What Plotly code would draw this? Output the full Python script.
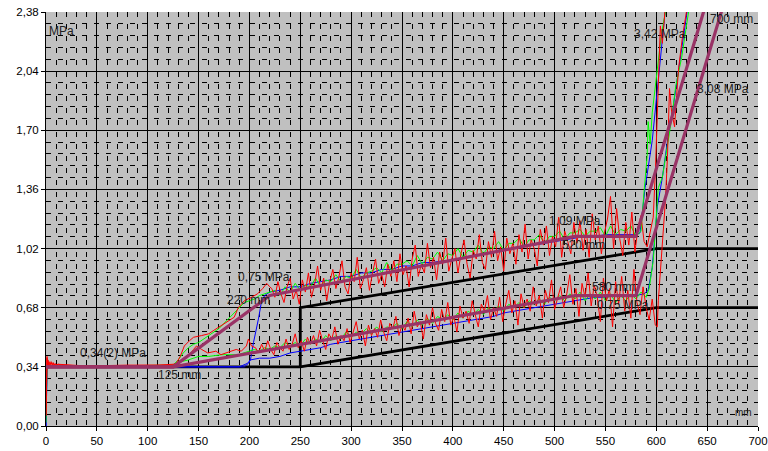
import plotly.graph_objects as go

# ---------------- data ----------------
x_ticks = [0, 50, 100, 150, 200, 250, 300, 350, 400, 450, 500, 550, 600, 650, 700]
y_ticks = [0.00, 0.34, 0.68, 1.02, 1.36, 1.70, 2.04, 2.38]
y_tick_text = ["0,00", "0,34", "0,68", "1,02", "1,36", "1,70", "2,04", "2,38"]

# reference (black) lines
black_low_x = [0, 250, 600, 700]
black_low_y = [0.34, 0.34, 0.68, 0.68]
black_up_x = [250, 250, 600, 700]
black_up_y = [0.34, 0.68, 1.02, 1.02]

# idealised (purple) lines
purple_up_x = [0, 125, 220, 520, 580, 700]
purple_up_y = [0.34, 0.34, 0.75, 1.09, 1.09, 3.42]
purple_low_x = [0, 125, 520, 580, 700]
purple_low_y = [0.34, 0.34, 0.75, 0.75, 3.08]

# blue measurements
blue_up_x = [0, 1, 190, 198, 201, 204, 209, 212, 215, 220, 230, 240, 250, 260, 270, 280, 290, 300, 310, 320,
             330, 340, 350, 360, 370, 380, 390, 400, 410, 420, 430, 440, 450, 460, 470, 480, 490, 500, 510,
             520, 530, 540, 550, 560, 570, 580, 584, 589, 596, 601, 606, 609, 612]
blue_up_y = [0.00, 0.34, 0.34, 0.36, 0.38, 0.48, 0.62, 0.72, 0.75, 0.77, 0.78, 0.80, 0.80, 0.82, 0.83, 0.84,
             0.86, 0.86, 0.88, 0.88, 0.90, 0.90, 0.92, 0.92, 0.94, 0.94, 0.95, 0.95, 0.97, 0.98, 0.99, 1.00,
             1.02, 1.02, 1.04, 1.04, 1.05, 1.06, 1.07, 1.08, 1.09, 1.09, 1.10, 1.10, 1.10, 1.10, 1.11, 1.37,
             1.64, 1.93, 2.22, 2.40, 2.50]
blue_low_x = [0, 1, 195, 199, 201, 210, 220, 230, 240, 250, 260, 270, 280, 290, 300, 310, 320, 330, 340, 350,
              360, 370, 380, 390, 400, 410, 420, 430, 440, 450, 460, 470, 480, 490, 500, 510, 520, 530, 540,
              550, 560, 570, 580, 588, 592, 596, 601, 606, 612, 617, 622, 630, 634]
blue_low_y = [0.00, 0.34, 0.34, 0.36, 0.38, 0.39, 0.39, 0.40, 0.42, 0.43, 0.44, 0.45, 0.47, 0.48, 0.49, 0.50,
              0.51, 0.52, 0.53, 0.54, 0.55, 0.56, 0.57, 0.58, 0.59, 0.60, 0.61, 0.62, 0.63, 0.65, 0.66, 0.67,
              0.68, 0.69, 0.70, 0.71, 0.72, 0.73, 0.74, 0.74, 0.75, 0.75, 0.75, 0.76, 0.78, 0.91, 1.26, 1.43,
              1.68, 1.85, 2.06, 2.37, 2.50]

# green measurements
green_up_x = [0, 1, 60, 125, 130, 135, 140, 145, 150, 155, 160, 165, 170, 175, 180, 185, 190, 195, 200, 205,
              210, 215, 220, 225, 230, 235, 240, 245, 250, 255, 260, 265, 270, 275, 280, 285, 290, 295, 300,
              305, 310, 315, 320, 325, 330, 335, 340, 345, 350, 355, 360, 365, 370, 375, 380, 385, 390, 395,
              400, 405, 410, 415, 420, 425, 430, 435, 440, 445, 450, 455, 460, 465, 470, 475, 480, 485, 490,
              495, 500, 505, 510, 515, 520, 525, 530, 535, 540, 545, 550, 555, 560, 565, 570, 575, 580, 585,
              588, 591, 592, 594, 596, 600, 605, 609, 612]
green_up_y = [0.02, 0.34, 0.345, 0.35, 0.38, 0.42, 0.45, 0.47, 0.48, 0.50, 0.52, 0.54, 0.56, 0.59, 0.62, 0.65,
              0.68, 0.71, 0.72, 0.73, 0.75, 0.76, 0.77, 0.78, 0.75, 0.80, 0.77, 0.82, 0.78, 0.81, 0.80, 0.85,
              0.80, 0.84, 0.83, 0.87, 0.83, 0.86, 0.85, 0.90, 0.85, 0.88, 0.89, 0.91, 0.88, 0.94, 0.89, 0.93,
              0.93, 0.95, 0.92, 0.98, 0.93, 0.97, 0.96, 1.00, 0.95, 0.99, 0.98, 1.02, 0.97, 1.01, 1.00, 1.04,
              0.99, 1.03, 1.02, 1.06, 1.01, 1.05, 1.05, 1.08, 1.03, 1.07, 1.07, 1.10, 1.05, 1.09, 1.09, 1.12,
              1.07, 1.11, 1.11, 1.13, 1.09, 1.12, 1.12, 1.14, 1.09, 1.15, 1.10, 1.13, 1.12, 1.15, 1.09, 1.12,
              1.35, 1.55, 1.75, 1.62, 1.80, 2.00, 2.25, 2.38, 2.50]
green_low_x = [125, 133, 140, 150, 160, 173, 189, 199, 205, 210, 215, 220, 225, 230, 235, 240, 245, 250, 255,
               260, 265, 270, 275, 280, 285, 290, 295, 300, 305, 310, 315, 320, 325, 330, 335, 340, 345, 350,
               355, 360, 365, 370, 375, 380, 385, 390, 395, 400, 405, 410, 415, 420, 425, 430, 435, 440, 445,
               450, 455, 460, 465, 470, 475, 480, 485, 490, 495, 500, 505, 510, 515, 520, 525, 530, 535, 540,
               545, 550, 555, 560, 565, 570, 575, 580, 585, 590, 593, 597, 602, 606, 612, 615, 619, 625, 632,
               635]
green_low_y = [0.35, 0.37, 0.38, 0.40, 0.40, 0.41, 0.41, 0.43, 0.44, 0.43, 0.45, 0.44, 0.46, 0.45, 0.48, 0.46,
               0.48, 0.46, 0.50, 0.47, 0.50, 0.48, 0.52, 0.49, 0.52, 0.50, 0.54, 0.51, 0.54, 0.53, 0.56, 0.53,
               0.57, 0.54, 0.57, 0.56, 0.59, 0.56, 0.60, 0.57, 0.61, 0.58, 0.62, 0.59, 0.63, 0.61, 0.64, 0.61,
               0.65, 0.62, 0.66, 0.64, 0.67, 0.64, 0.68, 0.66, 0.69, 0.66, 0.70, 0.68, 0.71, 0.68, 0.72, 0.70,
               0.73, 0.70, 0.74, 0.72, 0.75, 0.72, 0.76, 0.73, 0.77, 0.72, 0.76, 0.73, 0.77, 0.72, 0.76, 0.71,
               0.75, 0.72, 0.76, 0.73, 0.77, 0.74, 0.79, 0.95, 1.37, 1.43, 1.66, 1.76, 1.95, 2.12, 2.39, 2.50]

# red measurements
red_up_x = [0, 0.5, 1, 1.5, 2, 2.5, 3, 4, 5, 6, 7, 8, 9, 10, 12, 15, 40, 80, 110, 125, 128, 132, 136, 141, 145,
            153, 160, 165, 170, 178, 185, 189, 195, 202, 208, 213, 217, 220,
            222, 225, 228, 231, 234, 237, 240, 243, 246, 249,
            252, 255, 258, 261, 264, 267, 270, 273, 276, 279,
            282, 285, 288, 291, 294, 297, 300, 303, 306, 309,
            312, 315, 318, 321, 324, 327, 330, 333, 336, 339,
            342, 345, 348, 351, 354, 357, 360, 363, 366, 369,
            372, 375, 378, 381, 384, 387, 390, 393, 396, 399,
            402, 405, 408, 411, 414, 417, 420, 423, 426, 429,
            432, 435, 438, 441, 444, 447, 450, 453, 456, 459,
            462, 465, 468, 471, 474, 477, 480, 483, 486, 489,
            492, 495, 498, 501, 504, 507, 510, 513, 516, 519,
            522, 525, 528, 531, 534, 537, 540, 543, 546, 549,
            552, 555, 558, 561, 564, 567, 570, 573, 576, 579,
            582, 585, 588, 591, 594, 597, 599, 601, 603, 604, 606, 607, 609, 611]
red_up_y = [0.06, 0.30, 0.40, 0.33, 0.38, 0.34, 0.37, 0.35, 0.37, 0.35, 0.365, 0.35, 0.36, 0.35, 0.355, 0.35,
            0.345, 0.35, 0.35, 0.355, 0.36, 0.40, 0.46, 0.49, 0.51, 0.52, 0.53, 0.55, 0.57, 0.60, 0.625, 0.68,
            0.72, 0.74, 0.76, 0.79, 0.82, 0.80,
            0.79, 0.74, 0.83, 0.76, 0.71, 0.80, 0.85, 0.73, 0.78, 0.70,
            0.84, 0.77, 0.88, 0.74, 0.81, 0.92, 0.78, 0.85, 0.72, 0.83,
            0.90, 0.79, 0.86, 0.95, 0.80, 0.76, 0.88, 0.83, 0.97, 0.79,
            0.84, 0.91, 0.78, 0.88, 0.96, 0.82, 0.87, 0.80, 0.93, 0.86,
            0.95, 0.83, 0.99, 0.87, 0.92, 0.80, 0.96, 1.04, 0.86, 0.93,
            0.88, 1.05, 0.91, 0.97, 0.84, 1.00, 0.93, 1.08, 0.89, 0.96,
            1.02, 0.88, 0.99, 1.07, 0.93, 0.85, 1.01, 0.96, 1.10, 0.94,
            0.90, 1.06, 0.97, 1.12, 0.95, 1.03, 0.89, 1.08, 0.99, 1.05,
            0.93, 1.10, 1.00, 1.16, 0.96, 1.07, 1.02, 0.92, 1.13, 1.04,
            1.15, 0.98, 1.09, 1.03, 1.20, 0.97, 1.12, 1.06, 0.99, 1.17,
            1.05, 1.18, 1.01, 1.13, 0.97, 1.22, 1.07, 1.15, 0.99, 1.11,
            1.19, 1.32, 1.02, 1.25, 1.08, 0.98, 1.17, 1.04, 1.23, 1.00,
            1.14, 1.21, 1.06, 1.03, 1.12, 1.20, 1.45, 1.80, 2.10, 2.30, 2.20, 2.30, 2.42, 2.50]
red_low_x = [0, 0.5, 1, 1.5, 2, 3, 5, 8, 12, 40, 110, 125, 130, 135, 140, 145, 148, 153, 159, 167, 172, 182,
             187, 192, 197, 199, 202,
             206, 209, 212, 215, 218, 221, 224, 227, 230, 233,
             236, 239, 242, 245, 248, 251, 254, 257, 260, 263,
             266, 269, 272, 275, 278, 281, 284, 287, 290, 293,
             296, 299, 302, 305, 308, 311, 314, 317, 320, 323,
             326, 329, 332, 335, 338, 341, 344, 347, 350, 353,
             356, 359, 362, 365, 368, 371, 374, 377, 380, 383,
             386, 389, 392, 395, 398, 401, 404, 407, 410, 413,
             416, 419, 422, 425, 428, 431, 434, 437, 440, 443,
             446, 449, 452, 455, 458, 461, 464, 467, 470, 473,
             476, 479, 482, 485, 488, 491, 494, 497, 500, 503,
             506, 509, 512, 515, 518, 521, 524, 527, 530, 533,
             536, 539, 542, 545, 548, 551, 554, 557, 560, 563,
             566, 569, 572, 575, 578, 581, 584, 587, 590, 593,
             596, 599, 601, 602, 604, 606, 609, 611, 613, 615, 618, 620, 622, 626, 630, 633]
red_low_y = [0.06, 0.30, 0.39, 0.33, 0.37, 0.35, 0.36, 0.35, 0.355, 0.345, 0.35, 0.35, 0.36, 0.38, 0.40, 0.44,
             0.46, 0.44, 0.42, 0.43, 0.41, 0.43, 0.44, 0.43, 0.46, 0.50, 0.46,
             0.45, 0.42, 0.47, 0.43, 0.49, 0.44, 0.41, 0.48, 0.45, 0.43,
             0.50, 0.44, 0.47, 0.53, 0.45, 0.49, 0.43, 0.51, 0.47, 0.52,
             0.46, 0.55, 0.49, 0.44, 0.53, 0.50, 0.57, 0.47, 0.52, 0.49,
             0.56, 0.48, 0.54, 0.60, 0.50, 0.55, 0.46, 0.58, 0.52, 0.56,
             0.51, 0.61, 0.54, 0.49, 0.59, 0.56, 0.63, 0.52, 0.58, 0.55,
             0.62, 0.53, 0.66, 0.57, 0.60, 0.50, 0.64, 0.58, 0.68, 0.59,
             0.55, 0.67, 0.60, 0.71, 0.58, 0.63, 0.54, 0.69, 0.62, 0.66,
             0.59, 0.72, 0.64, 0.57, 0.70, 0.66, 0.75, 0.61, 0.68, 0.63,
             0.74, 0.60, 0.70, 0.78, 0.65, 0.72, 0.58, 0.76, 0.68, 0.73,
             0.66, 0.80, 0.69, 0.75, 0.62, 0.78, 0.71, 0.84, 0.67, 0.74,
             0.80, 0.68, 0.76, 0.87, 0.70, 0.79, 0.63, 0.82, 0.74, 0.88,
             0.69, 0.81, 0.74, 0.60, 0.85, 0.72, 0.79, 0.57, 0.83, 0.70,
             0.86, 0.66, 0.78, 0.62, 0.90, 0.71, 0.64, 0.80, 0.68, 0.61,
             0.73, 0.58, 0.57, 0.72, 0.88, 1.10, 1.30, 1.55, 1.94, 1.81, 1.72, 1.90, 2.06, 2.25, 2.38, 2.50]

# text labels: (text, x in mm, y in MPa)
label_texts = ["0,34(2) MPa", "125 mm", "0,75 MPa", "220 mm", "1,09 MPa", "520 mm",
               "580 mm", "0,75 MPa", "3,42 MPa", "700 mm", "3,08 MPa"]
label_x = [66, 131, 214, 199, 520, 528, 558, 567, 604, 674, 666]
label_y = [0.42, 0.293, 0.855, 0.723, 1.177, 1.039, 0.798, 0.695, 2.256, 2.342, 1.94]

# ---------------- figure ----------------
fig = go.Figure()

def add_line(x, y, color, width):
    fig.add_trace(go.Scatter(x=x, y=y, mode="lines", line=dict(color=color, width=width),
                             hoverinfo="skip", showlegend=False))

add_line(black_low_x, black_low_y, "black", 2.8)
add_line(black_up_x, black_up_y, "black", 2.8)
add_line(blue_up_x, blue_up_y, "#0000FF", 1)
add_line(blue_low_x, blue_low_y, "#0000FF", 1)
add_line(green_up_x, green_up_y, "#00FF00", 1)
add_line(green_low_x, green_low_y, "#00FF00", 1)
add_line(red_up_x, red_up_y, "#FF0000", 1)
add_line(red_low_x, red_low_y, "#FF0000", 1)
add_line(purple_up_x, purple_up_y, "#993366", 3.2)
add_line(purple_low_x, purple_low_y, "#993366", 3.2)

font_main = "Liberation Sans, Arial, sans-serif"

for t, lx, ly in zip(label_texts, label_x, label_y):
    fig.add_annotation(x=lx, y=ly, text=t, showarrow=False, xanchor="center", yanchor="middle",
                       font=dict(family=font_main, size=12, color="#222222"))

fig.add_annotation(x=1, y=2.27, text="MPa", showarrow=False, xanchor="left", yanchor="middle",
                   font=dict(family=font_main, size=12, color="#222222"))
fig.add_annotation(x=686, y=0.075, text="mm", showarrow=False, xanchor="center", yanchor="middle",
                   font=dict(family=font_main, size=10, color="#222222"))

fig.update_layout(
    width=768, height=451, autosize=False,
    margin=dict(l=46, r=10, t=12, b=25, pad=0),
    paper_bgcolor="white", plot_bgcolor="#C0C0C0",
    showlegend=False,
    font=dict(family=font_main, size=12, color="black"),
)
fig.update_xaxes(
    range=[0, 700], tickvals=x_ticks, ticktext=[str(v) for v in x_ticks],
    showgrid=True, gridcolor="black", gridwidth=1,
    showline=True, linecolor="black", linewidth=1, zeroline=False, automargin=False,
    ticks="outside", ticklen=4, tickcolor="black", ticklabeloverflow="allow",
    tickfont=dict(family=font_main, size=11.5, color="black"),
    minor=dict(dtick=10, tick0=0, showgrid=True, gridcolor="black", gridwidth=1, griddash="5px,7px"),
)
fig.update_yaxes(
    range=[0, 2.38], tickvals=y_ticks, ticktext=y_tick_text, showgrid=True, gridcolor="black", gridwidth=1,
    showline=True, linecolor="black", linewidth=1, zeroline=False, automargin=False,
    ticks="outside", ticklen=4, tickcolor="black", ticklabeloverflow="allow",
    tickfont=dict(family=font_main, size=11.5, color="black"),
    minor=dict(tickvals=[i * 0.068 for i in range(36)], showgrid=True, gridcolor="black", gridwidth=1,
               griddash="5px,7px"),
)

fig.write_html("out.html", config={"displayModeBar": False},
               post_script="document.body.style.margin='0px';document.body.style.overflow='hidden';")
